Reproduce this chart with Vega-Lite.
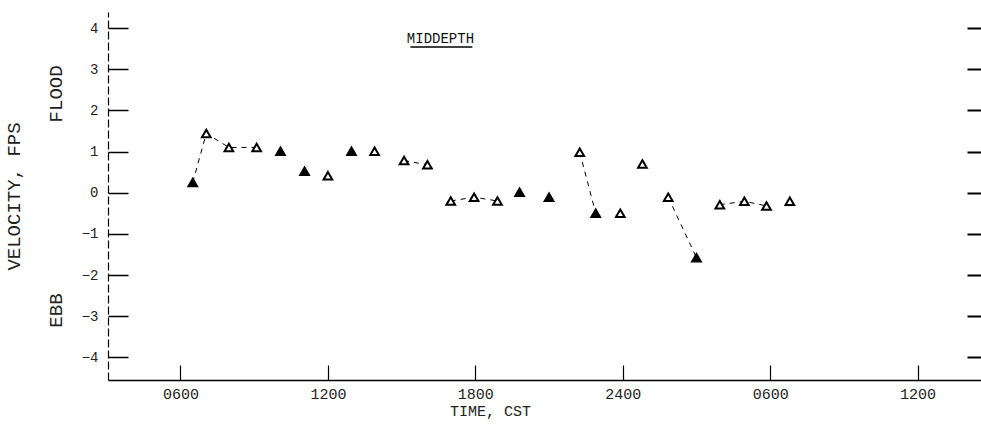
{
  "$schema": "https://vega.github.io/schema/vega-lite/v6.json",
  "autosize": {"type": "none"},
  "width": 873,
  "height": 368,
  "padding": {"left": 108, "top": 12, "right": 0, "bottom": 50},
  "background": "white",
  "config": {"view": {"stroke": null}, "font": "Liberation Mono"},
  "datasets": {
    "obs": [
      {"hour": 6.5, "vel": 0.25, "kind": "filled", "seg": "a"},
      {"hour": 7.05, "vel": 1.44, "kind": "open", "seg": "a"},
      {"hour": 7.97, "vel": 1.10, "kind": "open", "seg": "a"},
      {"hour": 9.1, "vel": 1.10, "kind": "open", "seg": "a"},
      {"hour": 10.07, "vel": 1.01, "kind": "filled", "seg": null},
      {"hour": 11.05, "vel": 0.52, "kind": "filled", "seg": null},
      {"hour": 12.0, "vel": 0.41, "kind": "open", "seg": null},
      {"hour": 12.96, "vel": 1.01, "kind": "filled", "seg": null},
      {"hour": 13.9, "vel": 1.01, "kind": "open", "seg": null},
      {"hour": 15.1, "vel": 0.78, "kind": "open", "seg": "b"},
      {"hour": 16.05, "vel": 0.68, "kind": "open", "seg": "b"},
      {"hour": 17.0, "vel": -0.20, "kind": "open", "seg": "c"},
      {"hour": 17.95, "vel": -0.11, "kind": "open", "seg": "c"},
      {"hour": 18.9, "vel": -0.20, "kind": "open", "seg": "c"},
      {"hour": 19.8, "vel": 0.01, "kind": "filled", "seg": null},
      {"hour": 21.0, "vel": -0.11, "kind": "filled", "seg": null},
      {"hour": 22.25, "vel": 0.98, "kind": "open", "seg": "d"},
      {"hour": 22.9, "vel": -0.50, "kind": "filled", "seg": "d"},
      {"hour": 23.9, "vel": -0.50, "kind": "open", "seg": null},
      {"hour": 24.8, "vel": 0.70, "kind": "open", "seg": null},
      {"hour": 25.85, "vel": -0.11, "kind": "open", "seg": "e"},
      {"hour": 27.0, "vel": -1.58, "kind": "filled", "seg": "e"},
      {"hour": 27.95, "vel": -0.29, "kind": "open", "seg": "f"},
      {"hour": 28.95, "vel": -0.21, "kind": "open", "seg": "f"},
      {"hour": 29.85, "vel": -0.32, "kind": "open", "seg": "f"},
      {"hour": 30.8, "vel": -0.21, "kind": "open", "seg": null}
    ],
    "label": [
      {"hour": 16.58, "vel": 3.73, "x1": 15.36, "x2": 17.88, "uy": 3.54, "text": "MIDDEPTH"}
    ]
  },
  "resolve": {"axis": {"x": "independent", "y": "independent"}},
  "layer": [
    {
      "data": {"name": "obs"},
      "transform": [{"filter": "datum.seg != null"}],
      "mark": {"type": "line", "color": "black", "strokeWidth": 1, "strokeDash": [5, 5]},
      "encoding": {
        "x": {
          "field": "hour", "type": "quantitative",
          "scale": {"domain": [3.05, 38.58], "nice": false, "zero": false},
          "axis": {
            "orient": "bottom", "values": [6, 12, 18, 24, 30, 36],
            "labelExpr": "datum.value % 24 == 0 ? '2400' : (datum.value % 24 < 10 ? '0' : '') + (datum.value % 24) + '00'",
            "ticks": false,
            "labelPadding": 6, "labelFontSize": 15, "labelColor": "#222", "labelFont": "Liberation Mono",
            "domainColor": "black", "domainWidth": 1.5, "grid": false,
            "title": "TIME, CST", "titleFontSize": 15, "titleFontWeight": "normal", "titleColor": "#222",
            "titleFont": "Liberation Mono", "titlePadding": 2, "titleX": 382
          }
        },
        "y": {
          "field": "vel", "type": "quantitative",
          "scale": {"domain": [-4.55, 4.39], "nice": false, "zero": false},
          "axis": {
            "orient": "left", "values": [-4, -3, -2, -1, 0, 1, 2, 3, 4], "format": "d",
            "ticks": false,
            "labelPadding": 10, "labelFontSize": 14, "labelColor": "#222", "labelFont": "Liberation Mono",
            "domainColor": "black", "domainWidth": 1.2, "domainDash": [8, 3], "grid": false,
            "title": ["VELOCITY, FPS", "EBB\u00a0\u00a0\u00a0\u00a0\u00a0\u00a0\u00a0\u00a0\u00a0\u00a0\u00a0\u00a0\u00a0\u00a0\u00a0FLOOD"],
            "titleFontSize": 19, "titleFontWeight": "normal", "titleColor": "#222",
            "titleFont": "Liberation Mono", "titleLineHeight": 42, "titlePadding": 16
          }
        },
        "detail": {"field": "seg"}
      }
    },
    {
      "data": {"name": "obs"},
      "mark": {"type": "point", "shape": "triangle-up", "filled": true, "stroke": "black", "strokeWidth": 2, "size": 75, "opacity": 1},
      "encoding": {
        "x": {
          "field": "hour", "type": "quantitative",
          "axis": {
            "orient": "top", "offset": -368, "values": [6, 12, 18, 24, 30, 36],
            "labels": false, "domain": false, "grid": false, "title": null,
            "tickSize": 15, "tickWidth": 1.2, "tickColor": "black"
          }
        },
        "y": {
          "field": "vel", "type": "quantitative",
          "axis": {
            "orient": "right", "values": [-4, -3, -2, -1, 0, 1, 2, 3, 4],
            "labels": false, "domain": false, "grid": false, "title": null,
            "tickSize": -14, "tickWidth": 2, "tickColor": "black"
          }
        },
        "fill": {"field": "kind", "type": "nominal", "scale": {"domain": ["filled", "open"], "range": ["black", "white"]}, "legend": null}
      }
    },
    {
      "data": {"name": "label"},
      "mark": {"type": "text", "font": "Liberation Mono", "fontSize": 14, "color": "#111", "baseline": "middle", "align": "center"},
      "encoding": {
        "x": {"field": "hour", "type": "quantitative", "axis": null},
        "y": {
          "field": "vel", "type": "quantitative",
          "axis": {
            "orient": "right", "offset": -873, "values": [-4, -3, -2, -1, 0, 1, 2, 3, 4],
            "labels": false, "domain": false, "grid": false, "title": null,
            "tickSize": 20, "tickWidth": 1.5, "tickColor": "black"
          }
        },
        "text": {"field": "text"}
      }
    },
    {
      "data": {"name": "label"},
      "mark": {"type": "rule", "color": "black", "strokeWidth": 1.5},
      "encoding": {
        "x": {"field": "x1", "type": "quantitative", "axis": null},
        "x2": {"field": "x2"},
        "y": {"field": "uy", "type": "quantitative", "axis": null}
      }
    }
  ]
}
